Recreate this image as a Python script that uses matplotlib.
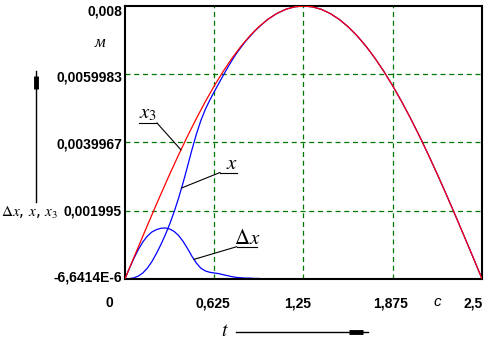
import numpy as np
import matplotlib.pyplot as plt
from matplotlib.lines import Line2D

plt.rcParams['mathtext.fontset'] = 'stix'

# x3 : reference displacement, m (sampled every 0.0625 s)
t3 = np.arange(0, 2.5 + 1e-9, 0.0625)
x3 = [0, 0.000628, 0.001251, 0.001868, 0.002472, 0.003061, 0.003632, 0.004180,
      0.004702, 0.005196, 0.005657, 0.006083, 0.006472, 0.006821, 0.007128,
      0.007391, 0.007608, 0.007779, 0.007902, 0.007975, 0.008,
      0.007975, 0.007902, 0.007779, 0.007608, 0.007391, 0.007128, 0.006821,
      0.006472, 0.006083, 0.005657, 0.005196, 0.004702, 0.004180, 0.003632,
      0.003061, 0.002472, 0.001868, 0.001251, 0.000628, 0]

# x : response (every 0.03125 s up to 1 s, then every 0.0625 s)
tx = np.concatenate([np.arange(0, 1.0 + 1e-9, 0.03125),
                     np.arange(1.0625, 2.5 + 1e-9, 0.0625)])
x = [0, 0.000004, 0.000028, 0.00008, 0.000171, 0.000311, 0.000498, 0.000732,
     0.000992, 0.001279, 0.001601, 0.001959, 0.002362, 0.002809, 0.00329,
     0.003785, 0.004242, 0.004643, 0.004966, 0.00524, 0.005487, 0.005725,
     0.005963, 0.006193, 0.006412, 0.006612, 0.006791, 0.00696, 0.007108,
     0.007255, 0.007381, 0.007496, 0.007608,
     0.007779, 0.007902, 0.007975, 0.008, 0.007975, 0.007902, 0.007779,
     0.007608, 0.007391, 0.007128, 0.006821, 0.006472, 0.006083, 0.005657,
     0.005196, 0.004702, 0.004180, 0.003632, 0.003061, 0.002472, 0.001868,
     0.001251, 0.000628, 0]

# dx : error x3 - x
tdx = np.arange(0, 0.96, 0.03125)
dx = [0, 0.00031, 0.00060, 0.00086, 0.00108, 0.00125, 0.00137, 0.00144,
      0.00148, 0.00149, 0.00146, 0.00139, 0.00127, 0.00110, 0.00089, 0.00066,
      0.00046, 0.00031, 0.00023, 0.00019, 0.00017, 0.00015, 0.00012, 0.00009,
      0.00006, 0.00004, 0.00003, 0.00002, 0.00002, 0.00001, 0.00001]

xticks = [0, 0.625, 1.25, 1.875, 2.5]
xtick_labels = ['0', '0,625', '1,25', '1,875', '2,5']
ymin, ymax = -6.6414e-6, 0.008
yticks = [ymin, 0.001995, 0.0039967, 0.0059983, ymax]
ytick_labels = ['-6,6414E-6', '0,001995', '0,0039967', '0,0059983', '0,008']

W, H = 489, 343
fig = plt.figure(figsize=(W / 100, H / 100), dpi=100)
ax = fig.add_axes([125 / W, 1 - 279 / H, 357 / W, 273 / H])

green = '#007800'
for v in xticks[1:-1]:
    ax.axvline(v, color=green, lw=0.9, ls=(0, (4, 3)), zorder=1)
for v in yticks[1:-1]:
    ax.axhline(v, color=green, lw=0.9, ls=(0, (4, 3)), zorder=1)

ax.plot(tx, x, color='#0000ff', lw=0.9, zorder=2)
ax.plot(tdx, dx, color='#0000ff', lw=0.9, zorder=2)
ax.plot(t3, x3, color='#ff0000', lw=0.9, zorder=3)

ax.set_xlim(0, 2.5)
ax.set_ylim(ymin, ymax)
for s in ax.spines.values():
    s.set_linewidth(1.5)
ax.set_xticks([])
ax.set_yticks([])

tick_font = dict(family='Liberation Sans', weight='bold', size=10)


def fpx(px, py):
    # pixel position (from top-left) to figure fraction
    return px / W, 1 - py / H


# tick labels, nudged in pixels like the original plotting package does
xlab_pos = [109, 212.5, 298, 391, 473]
for lab, px in zip(xtick_labels, xlab_pos):
    fig.text(*fpx(px, 303), lab, ha='center', va='center', **tick_font)

ylab_pos = [278, 212, 144.5, 78, 12]
for lab, py in zip(ytick_labels, ylab_pos):
    fig.text(*fpx(122, py), lab, ha='right', va='center', **tick_font)

# units
fig.text(*fpx(100, 43), 'м', ha='center', va='center', style='italic',
         family='Liberation Serif', size=12)
fig.text(*fpx(437, 302), 'с', ha='center', va='center', style='italic',
         family='Liberation Sans', size=11)

# axis titles with arrows
fig.text(*fpx(30, 213), r'$\Delta x$, $x$, $x_3$', ha='center', va='center',
         size=11)
fig.add_artist(Line2D([36 / W, 36 / W], [1 - 71 / H, 1 - 202 / H],
                      color='black', lw=1.0, transform=fig.transFigure))
fig.add_artist(Line2D([36 / W, 36 / W], [1 - 76 / H, 1 - 89 / H],
                      color='black', lw=3.5, solid_capstyle='butt',
                      transform=fig.transFigure))
fig.text(*fpx(225, 330), '$t$', ha='center', va='center', size=14)
fig.add_artist(Line2D([236 / W, 368 / W], [1 - 332 / H, 1 - 332 / H],
                      color='black', lw=1.0, transform=fig.transFigure))
fig.add_artist(Line2D([349 / W, 363 / W], [1 - 332 / H, 1 - 332 / H],
                      color='black', lw=3.5, solid_capstyle='butt',
                      transform=fig.transFigure))


# curve labels with leader lines
def leader(label, t_anchor, ts, vs, u0, u1, uy, tx_pos):
    ax_px = ax.transData.transform((t_anchor, np.interp(t_anchor, ts, vs)))
    axx, axy = ax_px[0], H - ax_px[1]
    fig.add_artist(Line2D([u0 / W, u1 / W], [1 - uy / H, 1 - uy / H],
                          color='black', lw=0.8, transform=fig.transFigure))
    fig.add_artist(Line2D([tx_pos[2] / W, axx / W], [1 - uy / H, 1 - axy / H],
                          color='black', lw=0.8, transform=fig.transFigure))
    fig.text(*fpx(tx_pos[0], tx_pos[1]), label, ha='center', va='baseline',
             size=15)


fig.canvas.draw()
leader('$x_3$', 0.392, t3, x3, 139, 157, 123, (148, 118, 157))
leader('$x$', 0.396, tx, x, 220, 237, 172.5, (232, 169, 220))
leader(r'$\Delta x$', 0.483, tdx, dx, 236.7, 256.7, 246.7, (247, 244, 236.7))

fig.savefig('out.png', dpi=100)
